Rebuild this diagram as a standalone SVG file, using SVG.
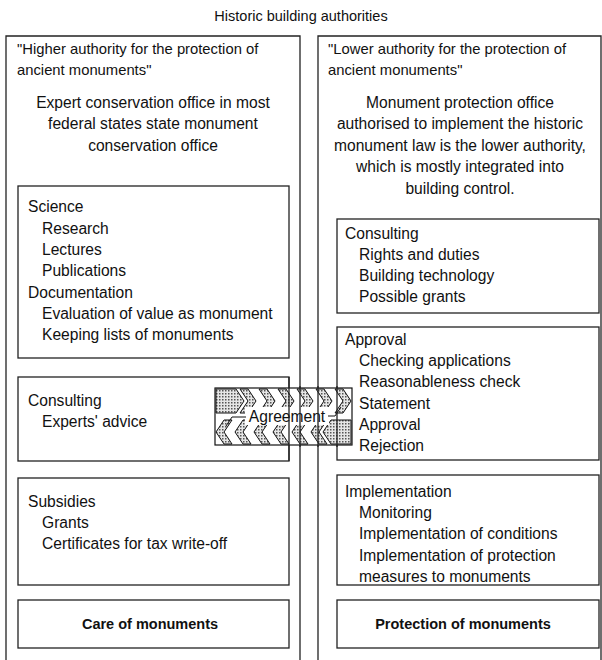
<svg xmlns="http://www.w3.org/2000/svg" width="602" height="660" viewBox="0 0 602 660">
  <defs>
    <style>
      text { font-family: "Liberation Sans", Arial, sans-serif; font-size: 15.6px; fill: #111; }
      .title { font-size: 14.5px; }
      .head { font-size: 14.8px; }
      .c { text-anchor: middle; }
      .b { font-weight: bold; font-size: 14.5px; }
      .ag { font-size: 15.6px; }
      .frame { fill: none; stroke: #222; stroke-width: 1.3; }
      .box { fill: none; stroke: #222; stroke-width: 1.3; }
      .chev { fill: url(#stipple); stroke: #111; stroke-width: 1; }
    </style>
    <pattern id="stipple" width="3" height="3" patternUnits="userSpaceOnUse">
      <rect width="3" height="3" fill="#e6e6e6"/>
      <rect x="0" y="0" width="1.5" height="1.5" fill="#555"/>
    </pattern>
  </defs>

  <rect width="602" height="660" fill="#fff"/>

  <text class="c title" x="301" y="21">Historic building authorities</text>

  <!-- Left column: higher authority -->
  <g id="higher-authority">
    <path class="frame" d="M6,660 V36 H300 V660"/>
    <text class="head" x="17" y="54">"Higher authority for the protection of</text>
    <text class="head" x="17" y="75">ancient monuments"</text>
    <text class="c" x="153" y="108">Expert conservation office in most</text>
    <text class="c" x="153" y="129">federal states state monument</text>
    <text class="c" x="153" y="151">conservation office</text>
  </g>

  <g id="science">
    <rect class="box" x="18" y="186" width="271" height="172"/>
    <text x="28" y="212">Science</text>
    <text x="42" y="234">Research</text>
    <text x="42" y="255">Lectures</text>
    <text x="42" y="276">Publications</text>
    <text x="28" y="298">Documentation</text>
    <text x="42" y="319">Evaluation of value as monument</text>
    <text x="42" y="340">Keeping lists of monuments</text>
  </g>

  <g id="consulting-higher">
    <rect class="box" x="18" y="377" width="271" height="84"/>
    <text x="28" y="406">Consulting</text>
    <text x="42" y="427">Experts' advice</text>
  </g>

  <g id="subsidies">
    <rect class="box" x="18" y="478" width="271" height="107"/>
    <text x="28" y="507">Subsidies</text>
    <text x="42" y="528">Grants</text>
    <text x="42" y="549">Certificates for tax write-off</text>
  </g>

  <g id="care">
    <rect class="box" x="18" y="600" width="271" height="48"/>
    <text class="c b" x="150" y="629">Care of monuments</text>
  </g>

  <!-- Right column: lower authority -->
  <g id="lower-authority">
    <path class="frame" d="M318,660 V36 H601 V660"/>
    <text class="head" x="328" y="54">"Lower authority for the protection of</text>
    <text class="head" x="328" y="75">ancient monuments"</text>
    <text class="c" x="460" y="108">Monument protection office</text>
    <text class="c" x="460" y="129">authorised to implement the historic</text>
    <text class="c" x="460" y="151">monument law is the lower authority,</text>
    <text class="c" x="460" y="172">which is mostly integrated into</text>
    <text class="c" x="460" y="194">building control.</text>
  </g>

  <g id="consulting-lower">
    <rect class="box" x="337" y="219" width="262" height="94"/>
    <text x="345" y="239">Consulting</text>
    <text x="359" y="260">Rights and duties</text>
    <text x="359" y="281">Building technology</text>
    <text x="359" y="302">Possible grants</text>
  </g>

  <g id="approval">
    <rect class="box" x="337" y="327" width="262" height="133"/>
    <text x="345" y="345">Approval</text>
    <text x="359" y="366">Checking applications</text>
    <text x="359" y="387">Reasonableness check</text>
    <text x="359" y="409">Statement</text>
    <text x="359" y="430">Approval</text>
    <text x="359" y="451">Rejection</text>
  </g>

  <g id="implementation">
    <rect class="box" x="337" y="475" width="262" height="110"/>
    <text x="345" y="497">Implementation</text>
    <text x="359" y="518">Monitoring</text>
    <text x="359" y="539">Implementation of conditions</text>
    <text x="359" y="561">Implementation of protection</text>
    <text x="359" y="582">measures to monuments</text>
  </g>

  <g id="protection">
    <rect class="box" x="337" y="600" width="262" height="48"/>
    <text class="c b" x="463" y="629">Protection of monuments</text>
  </g>

  <!-- Two-way agreement band between the authorities -->
  <g id="connectors">
    <g id="agreement">
      <rect x="215" y="388" width="137" height="57" fill="#fff" stroke="#111" stroke-width="1.2"/>
      <!-- upper row: chevrons towards the lower authority -->
      <path class="chev" d="M216,389 H236 L244,401 L236,413 H216 Z"/>
      <path class="chev" d="M240,389 H248 L256,401 L248,413 H240 L248,401 Z"/>
      <path class="chev" d="M259,389 H267 L275,401 L267,413 H259 L267,401 Z"/>
      <path class="chev" d="M278,389 H286 L294,401 L286,413 H278 L286,401 Z"/>
      <path class="chev" d="M297,389 H305 L313,401 L305,413 H297 L305,401 Z"/>
      <path class="chev" d="M316,389 H324 L332,401 L324,413 H316 L324,401 Z"/>
      <path class="chev" d="M335,389 H343 L351,401 L343,413 H335 L343,401 Z"/>
      <!-- lower row: chevrons towards the higher authority -->
      <path class="chev" d="M351,420 H331 L323,432 L331,444 H351 Z"/>
      <path class="chev" d="M327,420 H319 L311,432 L319,444 H327 L319,432 Z"/>
      <path class="chev" d="M308,420 H300 L292,432 L300,444 H308 L300,432 Z"/>
      <path class="chev" d="M289,420 H281 L273,432 L281,444 H289 L281,432 Z"/>
      <path class="chev" d="M270,420 H262 L254,432 L262,444 H270 L262,432 Z"/>
      <path class="chev" d="M251,420 H243 L235,432 L243,444 H251 L243,432 Z"/>
      <path class="chev" d="M232,420 H224 L216,432 L224,444 H232 L224,432 Z"/>
      <rect x="245" y="407" width="84" height="18" fill="#fff"/>
      <path d="M226,426 L232,417 H246 M341,407 L335,416 H328" fill="none" stroke="#111" stroke-width="1"/>
      <text class="c ag" x="287" y="422">Agreement</text>
      <!-- column edges run through the band -->
      <path d="M289,377 V461 M300,386 V447 M318,386 V447 M337,386 V447" fill="none" stroke="#222" stroke-width="1.3"/>
    </g>
  </g>
</svg>
